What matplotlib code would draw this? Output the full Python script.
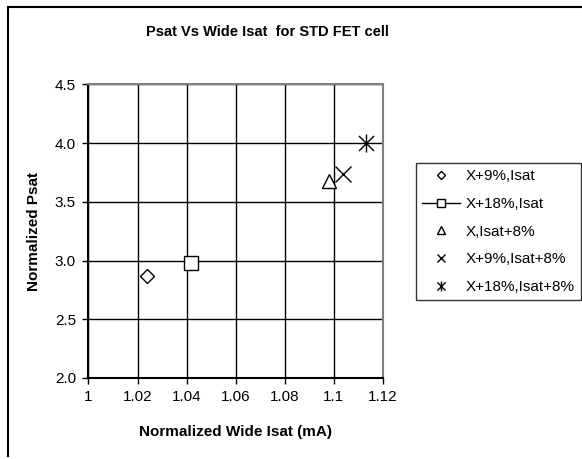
import numpy as np
import matplotlib
matplotlib.use("Agg")
import matplotlib.pyplot as plt
from matplotlib.path import Path
from matplotlib.lines import Line2D

plt.rcParams['font.family'] = ['Liberation Sans', 'DejaVu Sans']

# data
series_names = ['X+9%,Isat', 'X+18%,Isat', 'X,Isat+8%', 'X+9%,Isat+8%', 'X+18%,Isat+8%']
wide_isat = [1.024, 1.0417, 1.098, 1.1037, 1.1131]
psat = [2.87, 2.98, 3.68, 3.74, 4.0]

x_ticks = [1, 1.02, 1.04, 1.06, 1.08, 1.1, 1.12]
x_tick_labels = ['1', '1.02', '1.04', '1.06', '1.08', '1.1', '1.12']
y_ticks = [2.0, 2.5, 3.0, 3.5, 4.0, 4.5]

# excel style asterisk: x plus vertical bar
star = Path([(-0.5, -0.5), (0.5, 0.5), (-0.5, 0.5), (0.5, -0.5), (0, -0.6), (0, 0.6)],
            [Path.MOVETO, Path.LINETO, Path.MOVETO, Path.LINETO, Path.MOVETO, Path.LINETO])

styles = [
    dict(marker='D', ms=7, ls='none'),
    dict(marker='s', ms=10.5, ls='-'),
    dict(marker='^', ms=10.5, ls='none'),
    dict(marker='x', ms=11, ls='none'),
    dict(marker=star, ms=13, ls='none'),
]

fig = plt.figure(figsize=(5.82, 4.59), dpi=100)
ax = fig.add_axes([0.152, 0.1765, 0.5056, 0.6398])

handles = []
for name, xv, yv, st in zip(series_names, wide_isat, psat, styles):
    h, = ax.plot([xv], [yv], color='black', mfc='white', mec='black', mew=1.0,
                 lw=1.0, label=name, **st)
    handles.append(h)

ax.set_xlim(1, 1.12)
ax.set_ylim(2.0, 4.5)
ax.set_xticks(x_ticks)
ax.set_xticklabels(x_tick_labels)
ax.set_yticks(y_ticks)
ax.set_yticklabels([f'{v:.1f}' for v in y_ticks])
ax.grid(True, color='black', lw=1.0)
ax.set_axisbelow(True)
ax.tick_params(direction='out', length=4, width=1, labelsize=11, pad=5)
for s in ['top', 'right']:
    ax.spines[s].set_color('#808080')
    ax.spines[s].set_linewidth(1.5)
for s in ['left', 'bottom']:
    ax.spines[s].set_color('black')
    ax.spines[s].set_linewidth(1.5)

ax.set_xlabel('Normalized Wide Isat (mA)', fontsize=11, fontweight='bold', labelpad=15)
ax.set_ylabel('Normalized Psat', fontsize=11, fontweight='bold', labelpad=10)

fig.text(0.459, 0.93, 'Psat Vs Wide Isat  for STD FET cell', fontsize=10.5,
         fontweight='bold', ha='center', va='center')

leg = fig.legend(handles=handles, loc='upper left', bbox_to_anchor=(416 / 582, 1 - 163 / 459),
                 fontsize=11, frameon=True, fancybox=False, edgecolor='black',
                 borderpad=0.4, borderaxespad=0, labelspacing=0.9, handlelength=2.5,
                 handletextpad=0.35, markerscale=0.55)
leg.get_frame().set_linewidth(1.0)

# outer chart frame (left and top edges visible)
fig.add_artist(Line2D([8 / 582, 8 / 582], [1 - 7 / 459, 1 - 456 / 459], color='black', lw=1.5,
                      transform=fig.transFigure))
fig.add_artist(Line2D([8 / 582, 1.0], [1 - 7 / 459, 1 - 7 / 459], color='black', lw=1.5,
                      transform=fig.transFigure))

fig.savefig('out.png', dpi=100)
